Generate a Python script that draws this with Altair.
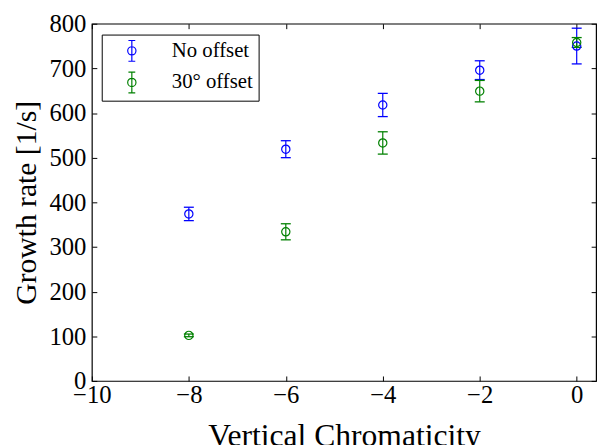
import altair as alt
import pandas as pd

# ---- data ----
chromaticity = [-8, -6, -4, -2, 0]
no_offset = [374, 519, 618, 696, 750]
no_offset_err = [15, 19, 26, 21, 40]
offset30 = [102, 334, 533, 649, 758]
offset30_err = [3, 18, 25, 24, 11]
series_names = ["No offset", "30° offset"]
series_colors = ["#0000ff", "#008000"]
x_ticks = [-10, -8, -6, -4, -2, 0]
y_ticks = [0, 100, 200, 300, 400, 500, 600, 700, 800]

rows = []
for name, vals, errs in [(series_names[0], no_offset, no_offset_err),
                         (series_names[1], offset30, offset30_err)]:
    for x, v, e in zip(chromaticity, vals, errs):
        rows.append({"x": x, "y": v, "lo": v - e, "hi": v + e, "series": name})
df = pd.DataFrame(rows)

FONT = "Liberation Serif"
xscale = alt.Scale(domain=[-10, 0.4], nice=False, zero=False)
yscale = alt.Scale(domain=[0, 800], nice=False, zero=False)

x_axis = alt.Axis(orient="bottom", values=x_ticks, offset=-5, tickSize=5,
                  tickColor="black", tickWidth=1, domain=False, grid=False,
                  labelFont=FONT, labelFontSize=25, labelColor="black",
                  labelPadding=2, labelFlush=False, labelOverlap=False,
                  labelBound=False,
                  title="Vertical Chromaticity", titleFont=FONT,
                  titleFontSize=32, titleFontWeight="normal",
                  titleColor="black", titlePadding=13)
y_axis = alt.Axis(orient="left", values=y_ticks, offset=-5, tickSize=5,
                  tickColor="black", tickWidth=1, domain=False, grid=False,
                  labelFont=FONT, labelFontSize=25, labelColor="black",
                  labelPadding=6, labelFlush=False, labelOverlap=False,
                  labelBound=False,
                  title="Growth rate [1/s]", titleFont=FONT,
                  titleFontSize=30, titleFontWeight="normal",
                  titleColor="black", titlePadding=8)

symbol_path = ("M-0.4,0A0.4,0.4,0,1,0,0.4,0A0.4,0.4,0,1,0,-0.4,0"
               "M0,-1L0,1M-0.33,-1L0.33,-1M-0.33,1L0.33,1")

legend = alt.Legend(title=None, orient="none", legendX=10, legendY=11,
                    symbolType=symbol_path, symbolSize=441,
                    symbolStrokeWidth=1.2, symbolFillColor="transparent",
                    symbolOpacity=1,
                    symbolOffset=14, labelOffset=29, rowPadding=5,
                    labelFont=FONT, labelFontSize=21, labelColor="black",
                    padding=5, fillColor="white", strokeColor="black",
                    cornerRadius=0)

color_scale = alt.Scale(domain=series_names, range=series_colors)
COLOR = alt.Color("series:N", scale=color_scale, legend=legend)
X = alt.X("x:Q", scale=xscale, axis=x_axis)

rules = alt.Chart(df).mark_rule(strokeWidth=1.2).encode(
    x=X,
    y=alt.Y("lo:Q", scale=yscale, axis=y_axis),
    y2="hi:Q",
    color=COLOR,
)
caps_lo = alt.Chart(df).mark_tick(orient="horizontal", size=9, thickness=0.2,
                                  filled=False, strokeWidth=1.1, opacity=1).encode(
    x=X,
    y=alt.Y("lo:Q", scale=yscale, axis=y_axis),
    color=COLOR,
)
caps_hi = alt.Chart(df).mark_tick(orient="horizontal", size=9, thickness=0.2,
                                  filled=False, strokeWidth=1.1, opacity=1).encode(
    x=X,
    y=alt.Y("hi:Q", scale=yscale, axis=y_axis),
    color=COLOR,
)
points = alt.Chart(df).mark_point(shape="circle", filled=False, size=70,
                                  strokeWidth=1.2, opacity=1).encode(
    x=X,
    y=alt.Y("y:Q", scale=yscale, axis=y_axis),
    color=COLOR,
)

main = alt.layer(rules, caps_lo, caps_hi, points)

tick_layer = alt.Chart(df).mark_point(opacity=0).encode(
    x=alt.X("x:Q", scale=xscale,
            axis=alt.Axis(orient="top", values=x_ticks, offset=-5, tickSize=5,
                          tickColor="black", tickWidth=1, domain=False,
                          grid=False, labels=False, title="")),
    y=alt.Y("y:Q", scale=yscale,
            axis=alt.Axis(orient="right", values=y_ticks, offset=-5, tickSize=5,
                          tickColor="black", tickWidth=1, domain=False,
                          grid=False, labels=False, title="")),
)

chart = alt.layer(main, tick_layer).resolve_axis(
    x="independent", y="independent"
).properties(
    width=511, height=362,
    padding={"left": 85, "top": 13, "right": 7, "bottom": 62},
    autosize=alt.AutoSizeParams(type="none"),
).configure_view(stroke="black", strokeWidth=1.2)

chart.save("out.html", embed_options={"renderer": "svg", "actions": False})
